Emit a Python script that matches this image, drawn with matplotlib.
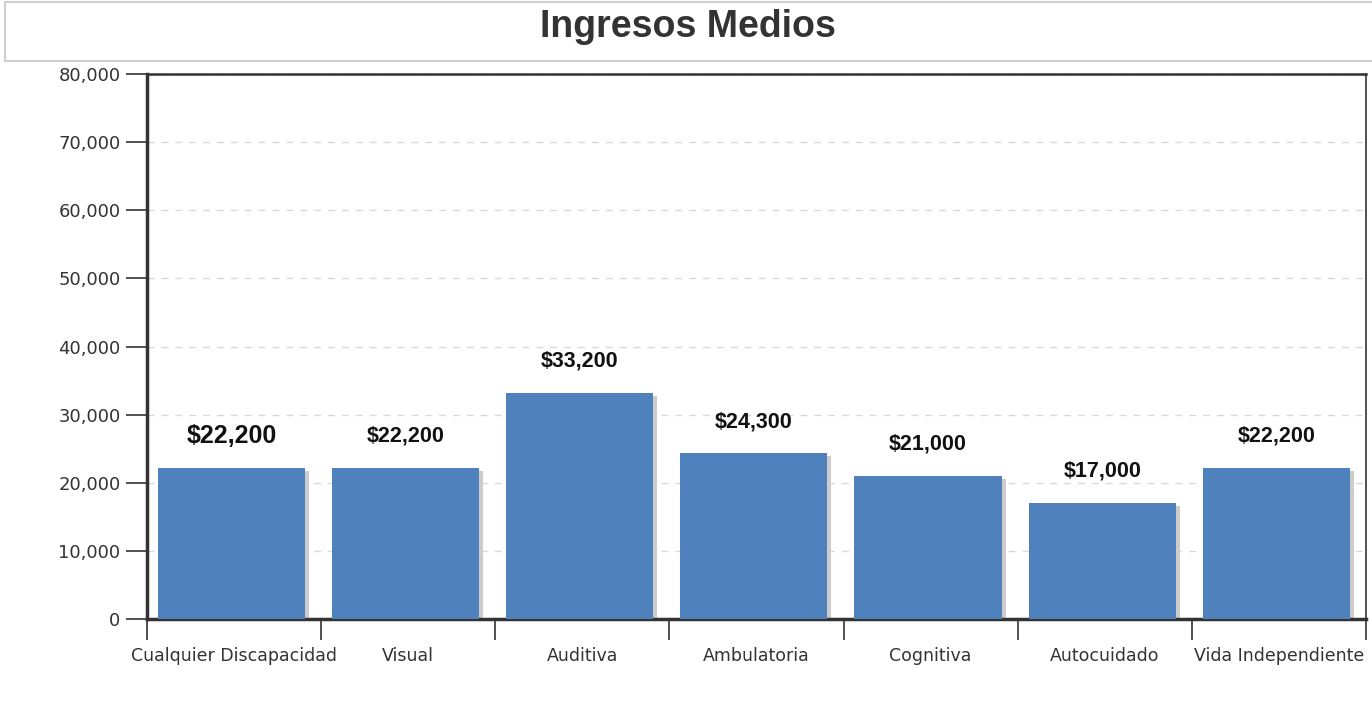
import matplotlib
matplotlib.use("Agg")
import matplotlib.pyplot as plt
from matplotlib.patches import Rectangle
from matplotlib.transforms import ScaledTranslation
from matplotlib.ticker import FuncFormatter, FixedLocator

categories = ["Cualquier Discapacidad", "Visual", "Auditiva", "Ambulatoria",
              "Cognitiva", "Autocuidado", "Vida Independiente"]
values = [22200, 22200, 33200, 24300, 21000, 17000, 22200]
value_labels = ["$22,200", "$22,200", "$33,200", "$24,300", "$21,000", "$17,000", "$22,200"]
y_ticks = [0, 10000, 20000, 30000, 40000, 50000, 60000, 70000, 80000]

fig = plt.figure(figsize=(13.72, 7.15), dpi=100)
ax = fig.add_axes([147 / 1372, 1 - 619 / 715, 1219 / 1372, 545 / 715])

# title box
fig.patches.append(Rectangle((5 / 1372, 1 - 61 / 715), 1.0, 59 / 715,
                             transform=fig.transFigure, facecolor="white",
                             edgecolor="#cfcfcf", linewidth=1.5, zorder=0))
fig.text(688 / 1372, 1 - 27 / 715, "Ingresos Medios", ha="center", va="center",
         fontsize=27, fontweight="bold", color="#333333", family="Liberation Sans")

x = list(range(len(categories)))
xb = [i - 0.015 for i in x]

# drop shadow behind the bars
off = ScaledTranslation(4 / 100, -3 / 100, fig.dpi_scale_trans)
shadow = ax.bar(xb, values, width=0.845, color="#cccccc", zorder=2)
for p in shadow:
    p.set_transform(ax.transData + off)
bars = ax.bar(xb, values, width=0.845, color="#4f81bd", zorder=3)

for i, (b, lab) in enumerate(zip(bars, value_labels)):
    fs = 18 if i == 0 else 15.5
    ax.annotate(lab, (b.get_x() + b.get_width() / 2, b.get_height()),
                xytext=(0, 23), textcoords="offset points", ha="center",
                va="center", fontsize=fs, fontweight="bold", color="#111111",
                family="Liberation Sans")

ax.set_xlim(-0.5, len(categories) - 0.5)
ax.set_ylim(0, 80000)
ax.set_yticks(y_ticks)
ax.yaxis.set_major_formatter(FuncFormatter(lambda v, p: f"{int(v):,}"))
ax.yaxis.grid(True, linestyle=(0, (5, 5)), color="#d5dbe2", linewidth=1, zorder=0)
ax.set_axisbelow(True)

ax.set_xticks(x)
ax.set_xticklabels(categories)
ax.xaxis.set_minor_locator(FixedLocator([i - 0.5 for i in range(len(categories) + 1)]))
ax.tick_params(axis="x", which="major", length=0, pad=20, labelsize=12.5, labelcolor="#333333")
ax.tick_params(axis="x", which="minor", length=15, width=1.2, color="#333333", direction="out")
ax.tick_params(axis="y", length=15, width=1.2, color="#333333", pad=4,
               labelsize=13, labelcolor="#333333")

ax.spines["left"].set_linewidth(2.5)
ax.spines["bottom"].set_linewidth(2.5)
ax.spines["top"].set_linewidth(1.8)
ax.spines["right"].set_linewidth(1.2)
for s in ax.spines.values():
    s.set_color("#333333")

fig.savefig("out.png", dpi=100)
